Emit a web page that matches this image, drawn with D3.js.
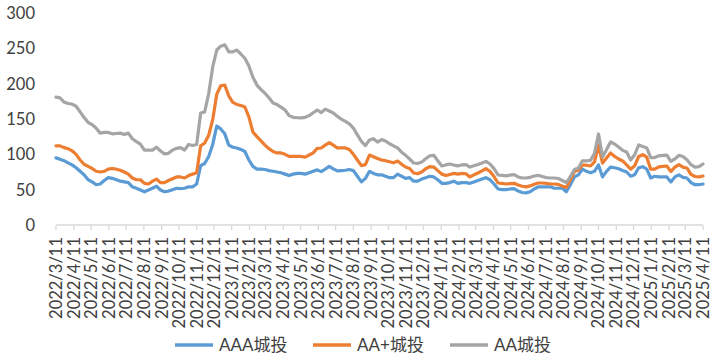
<!DOCTYPE html>
<html>
<head>
<meta charset="utf-8">
<script src="https://cdn.jsdelivr.net/npm/d3@7"></script>
<style>
  html, body { margin: 0; padding: 0; background: #fff; }
  svg { display: block; }
  text { font-family: Lato, "Noto Sans CJK SC", sans-serif; fill: #404040; }
</style>
</head>
<body>
<svg id="chart" width="719" height="355"></svg>
<script>
// ---- data (weekly observations, starting 2022/3/11) ----
const startDate = "2022-03-11";
const endDate = "2025-04-11";
const seriesNames = ["AAA城投", "AA+城投", "AA城投"];
const yTicks = [0, 50, 100, 150, 200, 250, 300];

const aaa = [95,93,91,88,85,81,76,71,64,61,
  57,58,63,67,66,64,62,61,60,54,
  52,49.5,47,49.5,52,55,49.5,47,48,50,
  52,51.5,52,54,54,58,84,87,97,114,
  140,136,129,113,110,109,107,104,92,83,
  79,79,78.5,77,76,75,74,72,70,72,
  73,73,72,74,76,78,75.5,79,83,79.5,
  76.5,77,77.5,78.5,77,69,61,66,76,73,
  71,71,69,67,67,72,69,66,67,62,
  62,65,67,69,68,64,59,59,60,62,
  59,60,60,59,61,63,65,67,64,58,
  51,50,50,51,51.5,48,46,45.5,47,51,
  54,54,54,54,52,52,52,47,57,68,
  71,79,76,74,76,85,68,76,82,81,
  79.5,77,75,69,71,81,82.5,79,66.5,69,
  68,68,68,61,68,71,67.5,66.5,60,57,
  57,58];

const aaPlus = [112,112,109.5,108,105,100,92,86,83,80,
  76,75,76,79,80,79,77.5,75,72,66.5,
  64,64,59,58,62,65,60,60,63,65.5,
  68,68,66.5,70,72,74,112,116,127,149,
  185,197,198,182.5,173.5,170.6,169,167,153,131.6,
  125,119,113,108,104,102,102,100,97,97,
  97,97,96,99,102,108.5,109,113,116.5,113,
  109,109,109,107,100,92,84,85.5,99,96.5,
  94,92,91,89.5,88,90.5,86,82,80,73.6,
  72.6,75,79.6,82.6,82,77,72,70,71.5,73,
  72,73,72.5,68,71,73.6,76.7,79.8,75.7,68.5,
  59.4,59,58,58.6,59,56.5,54.8,54,55.3,57.6,
  59.4,59.4,59,58,58,57.4,55,53,63.7,75.6,
  77.8,84.6,84.6,83.5,89.4,113,87.7,94.8,102,97,
  93.4,90.6,85,79,83.8,97,99.5,96,79,79,
  82.3,83,83.5,75.6,82,85.5,81.8,80.7,71.6,68.6,
  68.2,69.3];

const aa = [181,180,174,172,171,168,160,152,145,142,
  137,130,131,131,129,129.5,130,128,130,122,
  118,114.6,106,106,106,110,104.7,100.7,101.4,106,
  108.5,109.5,106,114,112.6,114,158.5,160,186,223.6,
  247.6,253,255,245,245,247.6,242,236,225,209,
  198,191.5,186.5,180,172.6,170.4,166.8,162.7,154.8,152.4,
  151.8,151.5,152.4,154.8,158.8,162.7,159,164,161.3,158.5,
  154,149.7,146.5,143,137,127.5,118.3,112.4,120.4,122.1,
  117.4,120.8,118.9,115,112,109,103,98.6,93.4,87.7,
  87.1,89,93.8,98,98.6,91,83.5,85,86.3,84.8,
  83.6,85.2,85.5,82,83.8,85.5,87.6,90,86.3,79.8,
  70.8,70.2,69.6,70.5,71.3,68,66.5,66.5,67.5,69.3,
  70.3,68.6,67,66.5,66.5,65.8,63,60,68.6,78.4,
  80.7,90.8,90.8,91.4,101.6,128.8,96.2,106.8,117.4,114.6,
  110.4,105.6,103.3,92,99.5,113.2,111,109,95.4,95.4,
  97.9,98.5,99,90,93.4,98.6,97,92.5,85.3,81.8,
  82.5,86.3];

const colors = ["#5B9BD5", "#ED7D31", "#A5A5A5"];

// ---- build ----
const parse = d3.timeParse("%Y-%m-%d");
const t0 = parse(startDate), t1 = parse(endDate);
const dates = aaa.map((_, i) => d3.timeDay.offset(t0, i * 7));
const series = [aaa, aaPlus, aa];

const svg = d3.select("#chart");
const x = d3.scaleTime().domain([t0, t1]).range([56, 703]);
const y = d3.scaleLinear().domain([0, 300]).range([225, 13]);

// y labels
svg.append("g").selectAll("text").data(yTicks).join("text")
  .attr("x", 35).attr("y", d => y(d))
  .attr("dy", "0.36em")
  .attr("text-anchor", "end")
  .style("font-size", "16.5px")
  .text(d => d);

// x axis line and ticks
const monthTicks = d3.timeMonth.range(d3.timeMonth.floor(t0), d3.timeDay.offset(t1, 1))
  .map(m => d3.timeDay.offset(m, 10))
  .filter(d => d >= t0 && d <= t1);
svg.append("line")
  .attr("x1", x(t0)).attr("x2", x(t1))
  .attr("y1", y(0)).attr("y2", y(0))
  .attr("stroke", "#D9D9D9").attr("stroke-width", 1.3);
svg.append("g").selectAll("line").data(monthTicks).join("line")
  .attr("x1", d => x(d)).attr("x2", d => x(d))
  .attr("y1", y(0)).attr("y2", y(0) + 5)
  .attr("stroke", "#D9D9D9").attr("stroke-width", 1.3);

const fmt = d3.timeFormat("%Y/%-m/%-d");
svg.append("g").selectAll("text").data(monthTicks).join("text")
  .attr("transform", d => `translate(${x(d)},${y(0) + 12}) rotate(-90)`)
  .attr("dy", "0.36em")
  .attr("text-anchor", "end")
  .style("font-size", "16.5px")
  .text(d => fmt(d));

// lines
const line = d3.line()
  .x((d, i) => x(dates[i]))
  .y(d => y(d));
series.forEach((s, k) => {
  svg.append("path")
    .datum(s)
    .attr("fill", "none")
    .attr("stroke", colors[k])
    .attr("stroke-width", 3.2)
    .attr("stroke-linejoin", "round")
    .attr("stroke-linecap", "round")
    .attr("d", line);
});

// legend
const legendX = [175, 313, 450];
const lg = svg.append("g");
seriesNames.forEach((name, k) => {
  lg.append("line")
    .attr("x1", legendX[k]).attr("x2", legendX[k] + 38)
    .attr("y1", 345).attr("y2", 345)
    .attr("stroke", colors[k]).attr("stroke-width", 3.5);
  lg.append("text")
    .attr("x", legendX[k] + 44).attr("y", 345)
    .attr("dy", "0.36em")
    .style("font-size", "17px")
    .text(name);
});
</script>
</body>
</html>
